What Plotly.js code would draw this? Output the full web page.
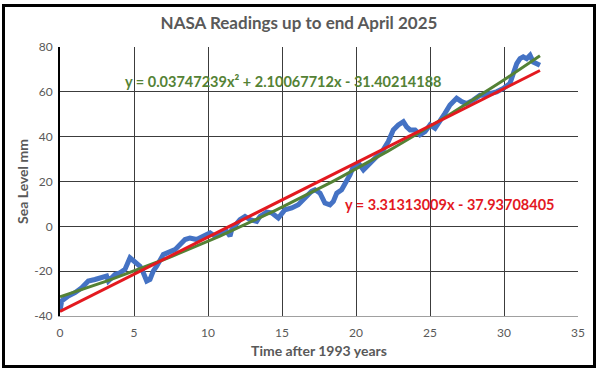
<!DOCTYPE html>
<html>
<head>
<meta charset="utf-8">
<script src="https://cdn.plot.ly/plotly-3.0.1.min.js"></script>
<style>
  html, body { margin: 0; padding: 0; background: #ffffff; }
  #frame { position: absolute; left: 2px; top: 4px; width: 594px; height: 364px; border: 3px solid #000; box-sizing: border-box; background: #fff; }
  #chart { width: 588px; height: 358px; }
</style>
</head>
<body>
<div id="frame"><div id="chart"></div></div>
<script>
// Years after 1993 and NASA sea level (mm)
const years = [0.00,0.11,0.56,1.01,1.47,1.91,2.36,2.82,3.15,3.27,3.72,4.05,4.39,4.73,5.07,5.41,5.63,5.86,6.08,6.30,6.53,6.78,6.98,7.77,8.45,8.78,9.24,9.68,10.14,10.47,11.26,11.49,11.60,12.16,12.50,12.84,13.29,13.51,13.97,14.30,14.75,15.20,15.66,16.10,16.55,17.00,17.23,17.57,17.90,18.24,18.47,18.70,19.03,19.37,19.60,19.82,20.16,20.50,20.83,21.17,21.40,21.84,22.18,22.52,22.86,23.20,23.42,23.65,23.99,24.32,24.66,25.00,25.34,25.68,26.01,26.35,26.80,27.14,27.48,27.93,28.38,28.60,29.05,29.50,29.95,30.40,30.63,30.86,31.08,31.30,31.53,31.76,31.98,32.20,32.43];
const seaLevel = [-37.8,-33.3,-31.1,-29.6,-27.4,-24.4,-23.7,-23.0,-22.2,-24.4,-21.5,-20.7,-19.2,-14.0,-16.3,-17.8,-20.7,-24.4,-23.7,-20.0,-17.8,-14.5,-12.6,-10.4,-5.9,-5.2,-5.9,-4.4,-2.9,-4.4,-2.2,-4.4,-1.5,3.0,4.4,3.0,2.2,4.4,6.3,6.0,3.7,7.4,8.2,9.6,12.6,15.6,16.3,14.8,10.4,9.6,11.1,14.8,16.3,20.0,23.0,26.7,28.2,25.2,27.4,30.4,31.9,34.1,37.8,43.0,45.2,46.7,44.4,43.0,43.0,40.8,42.2,45.2,43.7,46.7,50.4,54.1,57.1,55.6,54.8,56.3,58.5,58.5,59.3,60.0,61.5,63.7,68.2,72.6,74.8,75.6,74.8,76.3,73.3,72.6,71.9];

// Trendline coefficients (from the chart's equations)
const linCoef = [3.31313009, -37.93708405];            // slope, intercept
const quadCoef = [0.03747239, 2.10067712, -31.40214188]; // a, b, c
const linLabel = "y = 3.31313009x - 37.93708405";
const quadLabel = "y = 0.03747239x² + 2.10067712x - 31.40214188";

const xTicks = [0,5,10,15,20,25,30,35];
const yTicks = [-40,-20,0,20,40,60,80];

// trend curves evaluated over the data range
const tx = [];
const nT = 60;
const x0 = years[0], x1 = years[years.length - 1];
for (let i = 0; i <= nT; i++) tx.push(x0 + (x1 - x0) * i / nT);
const linY = tx.map(x => linCoef[0] * x + linCoef[1]);
const quadY = tx.map(x => quadCoef[0] * x * x + quadCoef[1] * x + quadCoef[2]);

const gray = '#595959';
const fontFam = 'Lato, "Open Sans", sans-serif';

const traces = [
  { x: years, y: seaLevel, mode: 'lines', line: { color: '#4472C4', width: 5 }, hoverinfo: 'skip' },
  { x: tx, y: quadY, mode: 'lines', line: { color: '#548235', width: 3 }, hoverinfo: 'skip' },
  { x: tx, y: linY, mode: 'lines', line: { color: '#E3191F', width: 3 }, hoverinfo: 'skip' }
];

const layout = {
  width: 588, height: 358,
  margin: { l: 55, r: 15, t: 40, b: 49 },
  paper_bgcolor: '#ffffff', plot_bgcolor: '#ffffff',
  showlegend: false,
  font: { family: fontFam, color: gray },
  title: { text: 'NASA Readings up to end April 2025', font: { family: fontFam, size: 17, color: gray, weight: 'bold' },
           x: 0.5, xanchor: 'center', xref: 'container', y: 0.955, yref: 'container', yanchor: 'middle' },
  xaxis: {
    range: [0, 35], tickvals: xTicks, ticktext: xTicks.map(String),
    showgrid: true, gridcolor: '#3c3c3c', gridwidth: 1,
    zeroline: false, showline: true, linecolor: '#a0a0a0', linewidth: 1,
    ticks: '', ticklabelstandoff: 6, tickfont: { size: 12, color: gray, family: fontFam },
    title: { text: 'Time after 1993 years', font: { size: 14, color: gray, family: fontFam, weight: 'bold' }, standoff: 6 }
  },
  yaxis: {
    range: [-40, 80], tickvals: yTicks, ticktext: yTicks.map(String),
    showgrid: true, gridcolor: '#3c3c3c', gridwidth: 1,
    zeroline: false, showline: true, linecolor: '#000000', linewidth: 2,
    ticks: '', ticklabelstandoff: 3, tickfont: { size: 12, color: gray, family: fontFam },
    title: { text: 'Sea Level mm', font: { size: 14, color: gray, family: fontFam, weight: 'bold' }, standoff: 2 }
  },
  annotations: [
    { x: 15.1, y: 64.8, xref: 'x', yref: 'y', text: quadLabel, showarrow: false,
      font: { size: 14.5, color: '#548235', family: fontFam, weight: 'bold' } },
    { x: 26.3, y: 9.6, xref: 'x', yref: 'y', text: linLabel, showarrow: false,
      font: { size: 14.5, color: '#E3191F', family: fontFam, weight: 'bold' } }
  ]
};

Plotly.newPlot('chart', traces, layout, { staticPlot: true, displayModeBar: false });
</script>
</body>
</html>
